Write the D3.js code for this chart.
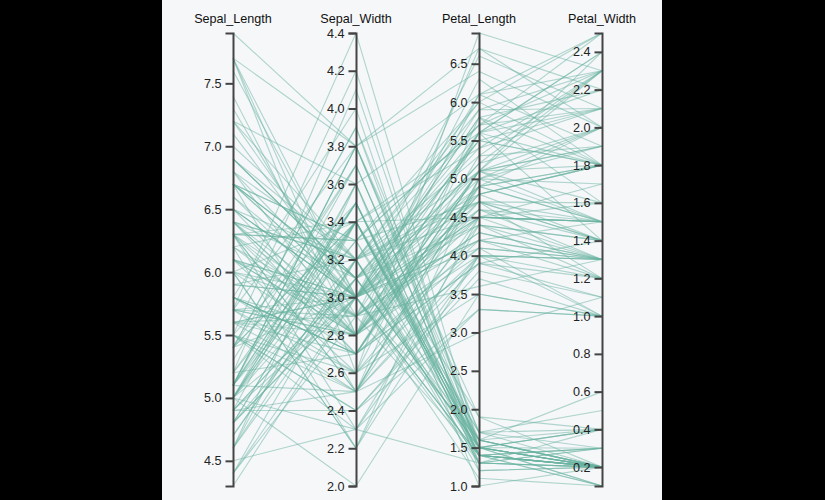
<!DOCTYPE html>
<html>
<head>
<meta charset="utf-8">
<script src="https://cdn.jsdelivr.net/npm/d3@7"></script>
<style>
  html, body { margin: 0; padding: 0; background: #000; }
  svg { display: block; }
</style>
</head>
<body>
<div id="chart"></div>
<script>
// iris measurements, one array per dimension (150 flowers)
const dimensions = ["Sepal_Length", "Sepal_Width", "Petal_Length", "Petal_Width"];

const sepalLength = [
  5.1,4.9,4.7,4.6,5.0,5.4,4.6,5.0,4.4,4.9,5.4,4.8,4.8,4.3,5.8,5.7,5.4,5.1,5.7,5.1,
  5.4,5.1,4.6,5.1,4.8,5.0,5.0,5.2,5.2,4.7,4.8,5.4,5.2,5.5,4.9,5.0,5.5,4.9,4.4,5.1,
  5.0,4.5,4.4,5.0,5.1,4.8,5.1,4.6,5.3,5.0,
  7.0,6.4,6.9,5.5,6.5,5.7,6.3,4.9,6.6,5.2,5.0,5.9,6.0,6.1,5.6,6.7,5.6,5.8,6.2,5.6,
  5.9,6.1,6.3,6.1,6.4,6.6,6.8,6.7,6.0,5.7,5.5,5.5,5.8,6.0,5.4,6.0,6.7,6.3,5.6,5.5,
  5.5,6.1,5.8,5.0,5.6,5.7,5.7,6.2,5.1,5.7,
  6.3,5.8,7.1,6.3,6.5,7.6,4.9,7.3,6.7,7.2,6.5,6.4,6.8,5.7,5.8,6.4,6.5,7.7,7.7,6.0,
  6.9,5.6,7.7,6.3,6.7,7.2,6.2,6.1,6.4,7.2,7.4,7.9,6.4,6.3,6.1,7.7,6.3,6.4,6.0,6.9,
  6.7,6.9,5.8,6.8,6.7,6.7,6.3,6.5,6.2,5.9
];
const sepalWidth = [
  3.5,3.0,3.2,3.1,3.6,3.9,3.4,3.4,2.9,3.1,3.7,3.4,3.0,3.0,4.0,4.4,3.9,3.5,3.8,3.8,
  3.4,3.7,3.6,3.3,3.4,3.0,3.4,3.5,3.4,3.2,3.1,3.4,4.1,4.2,3.1,3.2,3.5,3.6,3.0,3.4,
  3.5,2.3,3.2,3.5,3.8,3.0,3.8,3.2,3.7,3.3,
  3.2,3.2,3.1,2.3,2.8,2.8,3.3,2.4,2.9,2.7,2.0,3.0,2.2,2.9,2.9,3.1,3.0,2.7,2.2,2.5,
  3.2,2.8,2.5,2.8,2.9,3.0,2.8,3.0,2.9,2.6,2.4,2.4,2.7,2.7,3.0,3.4,3.1,2.3,3.0,2.5,
  2.6,3.0,2.6,2.3,2.7,3.0,2.9,2.9,2.5,2.8,
  3.3,2.7,3.0,2.9,3.0,3.0,2.5,2.9,2.5,3.6,3.2,2.7,3.0,2.5,2.8,3.2,3.0,3.8,2.6,2.2,
  3.2,2.8,2.8,2.7,3.3,3.2,2.8,3.0,2.8,3.0,2.8,3.8,2.8,2.8,2.6,3.0,3.4,3.1,3.0,3.1,
  3.1,3.1,2.7,3.2,3.3,3.0,2.5,3.0,3.4,3.0
];
const petalLength = [
  1.4,1.4,1.3,1.5,1.4,1.7,1.4,1.5,1.4,1.5,1.5,1.6,1.4,1.1,1.2,1.5,1.3,1.4,1.7,1.5,
  1.7,1.5,1.0,1.7,1.9,1.6,1.6,1.5,1.4,1.6,1.6,1.5,1.5,1.4,1.5,1.2,1.3,1.4,1.3,1.5,
  1.3,1.3,1.3,1.6,1.9,1.4,1.6,1.4,1.5,1.4,
  4.7,4.5,4.9,4.0,4.6,4.5,4.7,3.3,4.6,3.9,3.5,4.2,4.0,4.7,3.6,4.4,4.5,4.1,4.5,3.9,
  4.8,4.0,4.9,4.7,4.3,4.4,4.8,5.0,4.5,3.5,3.8,3.7,3.9,5.1,4.5,4.5,4.7,4.4,4.1,4.0,
  4.4,4.6,4.0,3.3,4.2,4.2,4.2,4.3,3.0,4.1,
  6.0,5.1,5.9,5.6,5.8,6.6,4.5,6.3,5.8,6.1,5.1,5.3,5.5,5.0,5.1,5.3,5.5,6.7,6.9,5.0,
  5.7,4.9,6.7,4.9,5.7,6.0,4.8,4.9,5.6,5.8,6.1,6.4,5.6,5.1,5.6,6.1,5.6,5.5,4.8,5.4,
  5.6,5.1,5.1,5.9,5.7,5.2,5.0,5.2,5.4,5.1
];
const petalWidth = [
  0.2,0.2,0.2,0.2,0.2,0.4,0.3,0.2,0.2,0.1,0.2,0.2,0.1,0.1,0.2,0.4,0.4,0.3,0.3,0.3,
  0.2,0.4,0.2,0.5,0.2,0.2,0.4,0.2,0.2,0.2,0.2,0.4,0.1,0.2,0.2,0.2,0.2,0.1,0.2,0.2,
  0.3,0.3,0.2,0.6,0.4,0.3,0.2,0.2,0.2,0.2,
  1.4,1.5,1.5,1.3,1.5,1.3,1.6,1.0,1.3,1.4,1.0,1.5,1.0,1.4,1.3,1.4,1.5,1.0,1.5,1.1,
  1.8,1.3,1.5,1.2,1.3,1.4,1.4,1.7,1.5,1.0,1.1,1.0,1.2,1.6,1.5,1.6,1.5,1.3,1.3,1.3,
  1.2,1.4,1.2,1.0,1.3,1.2,1.3,1.3,1.1,1.3,
  2.5,1.9,2.1,1.8,2.2,2.1,1.7,1.8,1.8,2.5,2.0,1.9,2.1,2.0,2.4,2.3,1.8,2.2,2.3,1.5,
  2.3,2.0,2.0,1.8,2.1,1.8,1.8,1.8,2.1,1.6,1.9,2.0,2.2,1.5,1.4,2.3,2.4,1.8,1.8,2.1,
  2.4,2.3,1.9,2.3,2.5,2.3,1.9,2.0,2.3,1.8
];

const columns = [sepalLength, sepalWidth, petalLength, petalWidth];
const data = sepalLength.map((_, i) => {
  const row = {};
  dimensions.forEach((d, j) => { row[d] = columns[j][i]; });
  return row;
});

const W = 825, H = 500;
const panel = { x: 162, w: 500 };
const yTop = 33, yBottom = 486;
const fontSize = 12.6;

const svg = d3.select("#chart").append("svg")
  .attr("width", W)
  .attr("height", H);

svg.append("rect").attr("width", W).attr("height", H).attr("fill", "#000");
svg.append("rect")
  .attr("x", panel.x).attr("y", 0)
  .attr("width", panel.w).attr("height", H)
  .attr("fill", "#f6f7f9");

const x = d3.scalePoint()
  .domain(dimensions)
  .range([233, 602]);

const y = {};
dimensions.forEach(d => {
  y[d] = d3.scaleLinear()
    .domain(d3.extent(data, r => r[d]))
    .range([yBottom, yTop]);
});

function path(r) {
  return d3.line()(dimensions.map(d => [x(d), y[d](r[d])]));
}

svg.append("g")
  .selectAll("path")
  .data(data)
  .join("path")
  .attr("d", path)
  .attr("fill", "none")
  .attr("stroke", "#69b3a2")
  .attr("stroke-width", 1.1)
  .attr("opacity", 0.5);

const axes = svg.selectAll(".axis")
  .data(dimensions)
  .join("g")
  .attr("class", "axis")
  .attr("transform", d => `translate(${x(d)},0)`)
  .each(function (d) {
    d3.select(this).call(
      d3.axisLeft(y[d]).tickSize(7.5).tickPadding(4)
    );
  });

axes.selectAll(".domain")
  .attr("stroke", "#444")
  .attr("stroke-width", 2);
axes.selectAll(".tick line")
  .attr("stroke", "#444")
  .attr("stroke-width", 2);
axes.selectAll(".tick text")
  .attr("fill", "#222")
  .style("font-family", "'Liberation Sans', Arial, sans-serif")
  .style("font-size", fontSize + "px");

axes.append("text")
  .attr("y", 23)
  .attr("text-anchor", "middle")
  .attr("fill", "#111")
  .style("font-family", "'Liberation Sans', Arial, sans-serif")
  .style("font-size", fontSize + "px")
  .text(d => d);
</script>
</body>
</html>
